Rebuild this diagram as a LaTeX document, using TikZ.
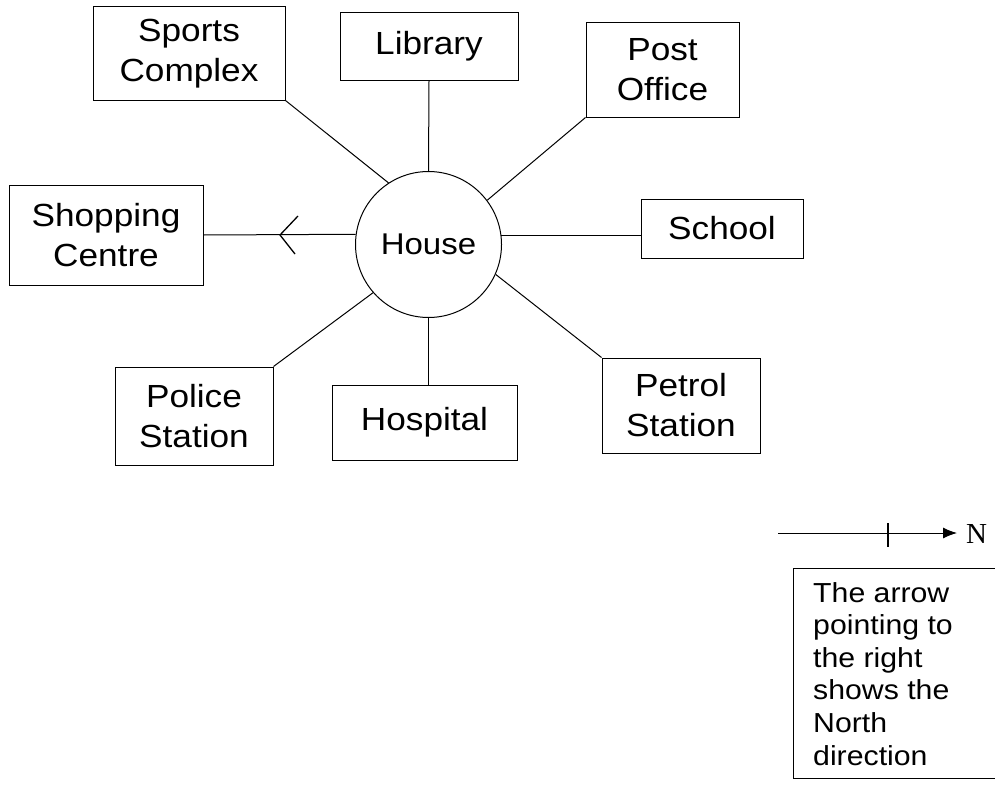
\documentclass[tikz,border=0pt]{standalone}
\usepackage{fontspec}
\setmainfont{Liberation Sans}[FakeStretch=1.1]
\newfontfamily\serifN{Liberation Serif}
\usetikzlibrary{arrows.meta,calc}
\tikzset{
  place/.style={draw, line width=1pt, inner sep=0pt, align=center,
    font=\fontsize{32}{40}\selectfont},
  link/.style={line width=1pt},
}
\begin{document}
\begin{tikzpicture}[x=1pt,y=-1pt]
\useasboundingbox (0,0) rectangle (995,784);
\clip (0,0) rectangle (995,784);
% house
\node[draw, circle, line width=1pt, minimum size=146pt, inner sep=0pt,
  font=\fontsize{30}{36}\selectfont] (house) at (428.5,244.5) {House};
% boxes
\node[place, minimum width=192pt, minimum height=93pt] (sports) at (189,53.5) {Sports\\Complex};
\node[place, minimum width=178pt, minimum height=67pt] (library) at (429,46.5) {Library};
\node[place, minimum width=153pt, minimum height=94pt] (post) at (662.5,70) {Post\\Office};
\node[place, minimum width=194pt, minimum height=100pt] (shop) at (106,235) {Shopping\\Centre};
\node[place, minimum width=162pt, minimum height=59pt] (school) at (722,228.5) {School};
\node[place, minimum width=158pt, minimum height=98pt] (police) at (194,416) {Police\\Station};
\node[place, minimum width=185pt, minimum height=75pt] (hospital) at (424.5,422.5) {Hospital};
\node[place, minimum width=158pt, minimum height=95pt] (petrol) at (681,405.5) {Petrol\\Station};
% connectors
\draw[link] (sports.south east) -- (house.123);
\draw[link] (library.south) -- (house.north);
\draw[link] (post.south west) -- (house.37);
\draw[link] (shop.east) -- (house.172.5);
\draw[link] (house.7.5) -- (house.7.5 -| school.west);
\draw[link] (house.-24) -- (petrol.north west);
\draw[link] (house.south) -- (house.south |- hospital.north);
\draw[link] (house.221) -- (police.north east);
% arrow mark on the shopping line
\coordinate (tipS) at (280,235);
\draw[link, line width=1.3pt] ($(tipS)+(18,-19)$) -- (tipS) -- ($(tipS)+(15,19)$);
% north arrow
\coordinate (nstart) at (778,533);
\coordinate (nend) at (957,533);
\draw[line width=1pt, -{Latex[length=14pt,width=11pt]}] (nstart) -- (nend);
\coordinate (tick) at (888,533);
\draw[line width=1.3pt] ($(tick)+(0,-10)$) -- ($(tick)+(0,14)$);
\node[anchor=base west, inner sep=0pt, font=\serifN\fontsize{29}{32}\selectfont] (N) at (966,543) {N};
% legend box
\draw[line width=1pt] (793,568) rectangle (1010,778);
\node[anchor=north west, inner sep=0pt, align=left,
  font=\fontsize{27.5}{32.6}\selectfont] (legend) at (813,582)
  {The arrow\\pointing to\\the right\\shows the\\North\\direction};
\end{tikzpicture}
\end{document}
